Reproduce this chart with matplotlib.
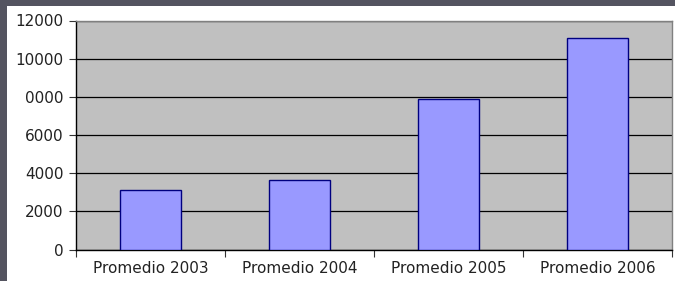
import matplotlib
matplotlib.use("Agg")
import matplotlib.pyplot as plt
from matplotlib.patches import Rectangle

categories = ["Promedio 2003", "Promedio 2004", "Promedio 2005", "Promedio 2006"]
values = [3100, 3650, 7900, 11100]
yticks = [0, 2000, 4000, 6000, 8000, 10000, 12000]
ytick_labels = ["0", "2000", "4000", "6000", "0000", "10000", "12000"]

W, H = 675, 281
fig = plt.figure(figsize=(W / 100, H / 100), dpi=100)
fig.patch.set_facecolor("#545460")
fig.patches.append(Rectangle((7 / W, 0), 1, (H - 6) / H, transform=fig.transFigure,
                             facecolor="white", edgecolor="none", zorder=-10))

ax = fig.add_axes([76 / W, (H - 249.5) / H, (672 - 76) / W, (249.5 - 20.5) / H])
ax.set_facecolor("#c0c0c0")
x = list(range(len(categories)))
ax.bar(x, values, width=0.41, color="#9999ff", edgecolor="#000080", linewidth=1.0, zorder=3)
ax.set_xlim(-0.5, len(categories) - 0.5)
ax.set_ylim(0, 12000)
ax.set_yticks(yticks)
ax.set_yticklabels(ytick_labels)
ax.yaxis.grid(True, color="black", linewidth=0.9, zorder=1)
ax.set_axisbelow(True)
ax.set_xticks(x)
ax.set_xticklabels(categories)
ax.set_xticks([i - 0.5 for i in range(len(categories) + 1)], minor=True)
ax.tick_params(axis="x", which="major", length=0, pad=8.5)
ax.tick_params(axis="x", which="minor", length=5, width=0.8, color="#333333")
ax.tick_params(axis="y", length=5, width=0.8, color="#333333", pad=4)
for lab in ax.get_xticklabels() + ax.get_yticklabels():
    lab.set_fontfamily("DejaVu Sans")
    lab.set_fontsize(11)
    lab.set_color("#222222")
for s in ["top", "right"]:
    ax.spines[s].set_color("#808080")
    ax.spines[s].set_linewidth(1.0)
for s in ["left", "bottom"]:
    ax.spines[s].set_color("black")
    ax.spines[s].set_linewidth(1.0)

fig.savefig("out.png", dpi=100, facecolor=fig.get_facecolor())
